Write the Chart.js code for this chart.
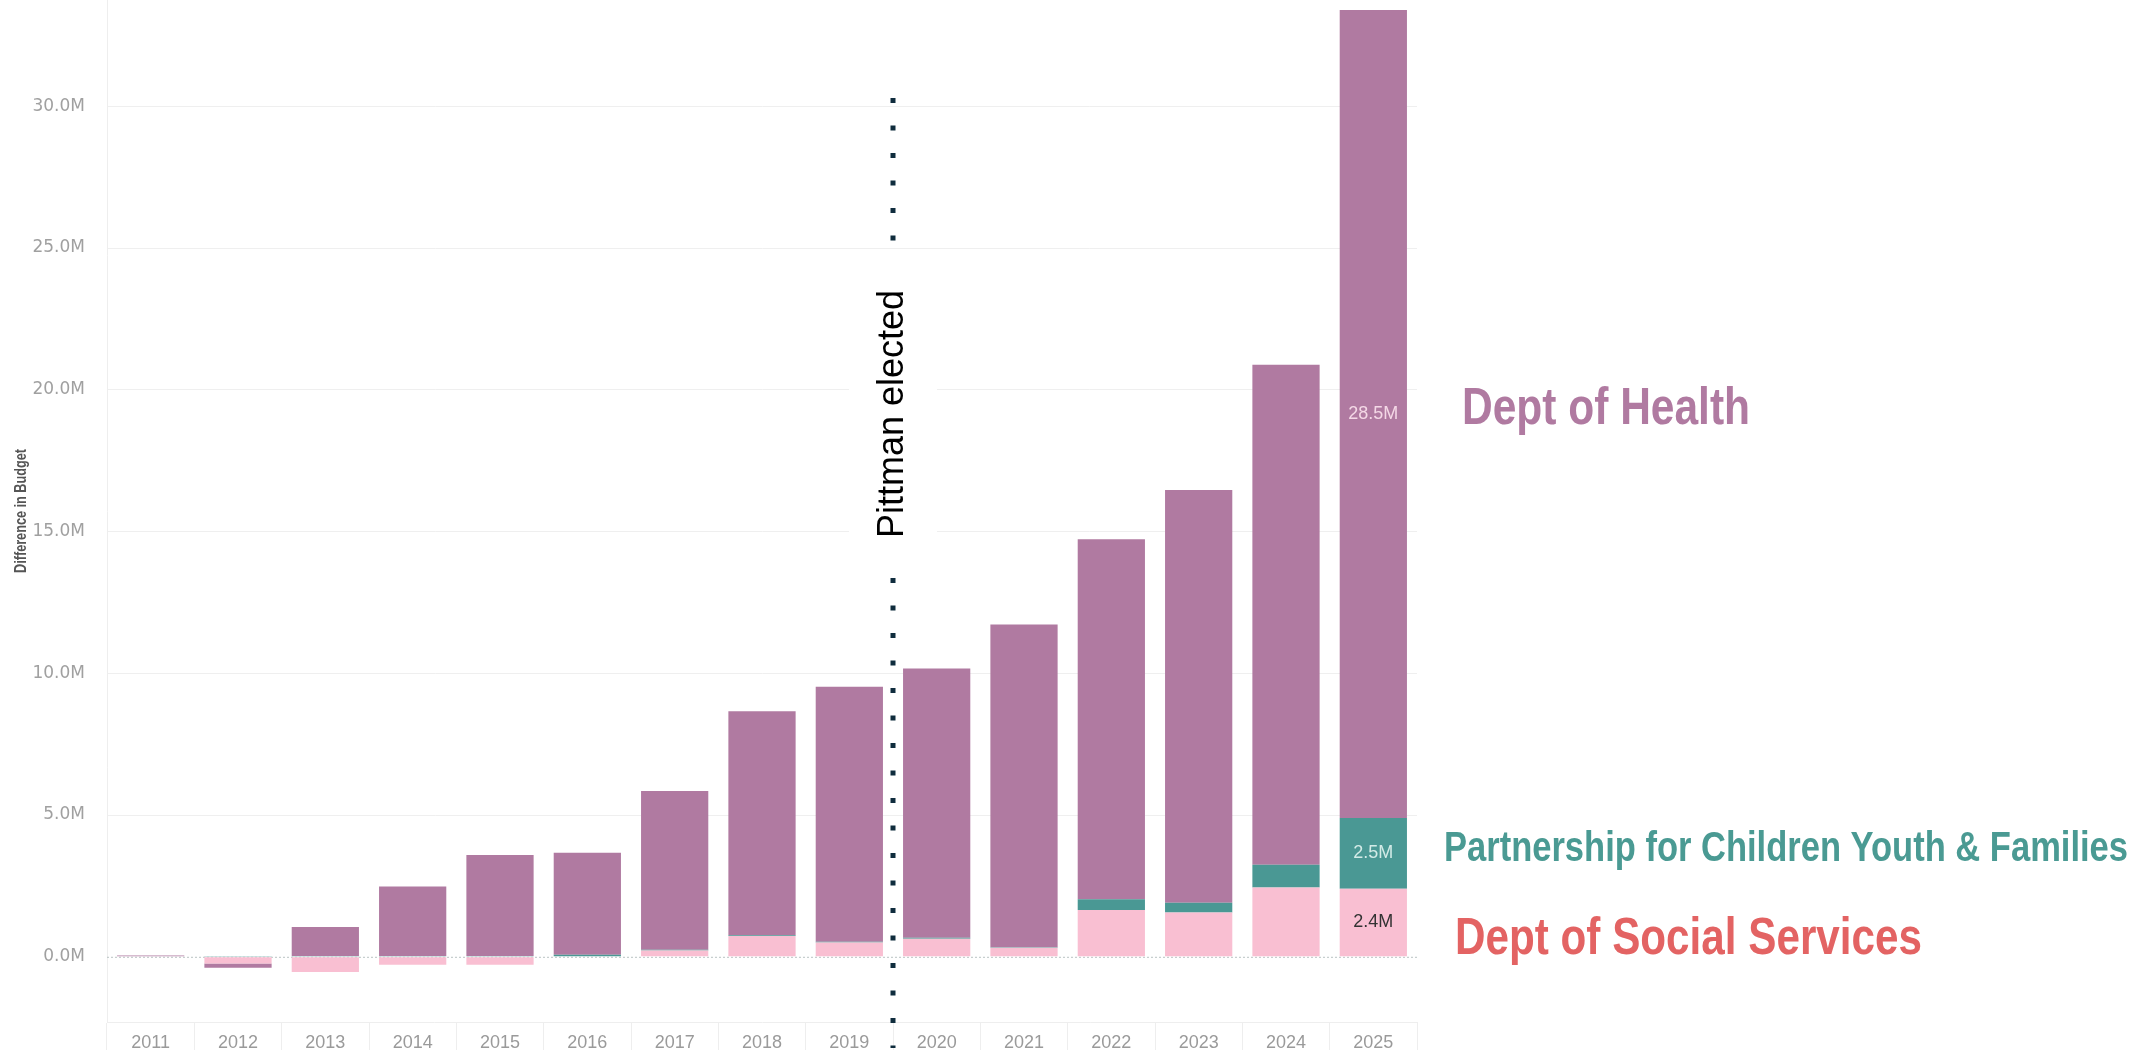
<!DOCTYPE html>
<html>
<head>
<meta charset="utf-8">
<script src="https://cdn.jsdelivr.net/npm/chart.js@4.4.0/dist/chart.umd.min.js"></script>
<style>
  html, body { margin: 0; padding: 0; background: #fff; }
</style>
</head>
<body>
<canvas id="budgetChart" width="2156" height="1050"></canvas>
<script>
// values in millions
const years = ['2011', '2012', '2013', '2014', '2015', '2016', '2017', '2018', '2019', '2020', '2021', '2022', '2023', '2024', '2025'];
const socialServices = [0, -0.24, -0.54, -0.28, -0.28, 0.02, 0.22, 0.73, 0.5, 0.64, 0.32, 1.65, 1.56, 2.44, 2.4];
const partnership = [0, 0.03, 0.03, 0.03, 0.03, 0.05, 0.03, 0.03, 0.03, 0.03, 0.02, 0.38, 0.35, 0.81, 2.5];
const health = [0.05, -0.15, 1.02, 2.45, 3.56, 3.6, 5.6, 7.9, 9.0, 9.5, 11.38, 12.7, 14.56, 17.63, 28.5];
const yTicks = [0, 5, 10, 15, 20, 25, 30];

const colors = { social: '#f9bfd2', partner: '#4a9894', health: '#b07aa1' };

const overlay = {
  id: 'overlay',
  beforeDatasetsDraw(chart) {
    const ctx = chart.ctx, a = chart.chartArea, y = chart.scales.y;
    // dotted zero line
    const y0 = y.getPixelForValue(0);
    ctx.save();
    ctx.strokeStyle = '#b9c4c4';
    ctx.lineWidth = 1;
    ctx.setLineDash([2, 2]);
    ctx.beginPath();
    ctx.moveTo(a.left, y0 + 0.5);
    ctx.lineTo(a.right, y0 + 0.5);
    ctx.stroke();
    ctx.restore();

    // axis title, squeezed like a narrow face
    ctx.save();
    ctx.translate(22, (a.top + a.bottom) / 2);
    ctx.rotate(-Math.PI / 2);
    ctx.font = 'bold 16px "Liberation Sans"';
    ctx.fillStyle = '#555555';
    ctx.textAlign = 'center';
    ctx.textBaseline = 'middle';
    ctx.fillText('Difference in Budget', 0, 0, 124);
    ctx.restore();
  },
  afterDatasetsDraw(chart) {
    const ctx = chart.ctx, x = chart.scales.x;
    const last = years.length - 1;

    // labels on the last bar
    const labelColors = ['#333333', '#d3ebe7', '#f4d8e6'];
    chart.data.datasets.forEach((ds, i) => {
      const bar = chart.getDatasetMeta(i).data[last];
      const c = bar.getCenterPoint();
      ctx.save();
      ctx.font = '18px "Liberation Sans"';
      ctx.fillStyle = labelColors[i];
      ctx.textAlign = 'center';
      ctx.textBaseline = 'middle';
      ctx.fillText(ds.data[last].toFixed(1) + 'M', c.x, c.y);
      ctx.restore();
    });

    // "Pittman elected" marker between 2019 and 2020
    const lx = Math.round((x.getPixelForValue(8) + x.getPixelForValue(9)) / 2);
    ctx.save();
    ctx.fillStyle = '#ffffff';
    ctx.fillRect(lx - 44, 250, 88, 326);
    ctx.strokeStyle = '#0f2c3d';
    ctx.lineWidth = 5;
    ctx.setLineDash([5, 22.5]);
    ctx.beginPath();
    ctx.moveTo(lx, 98);
    ctx.lineTo(lx, 250);
    ctx.moveTo(lx, 578);
    ctx.lineTo(lx, 1048);
    ctx.stroke();
    ctx.setLineDash([]);
    ctx.translate(lx, 414);
    ctx.rotate(-Math.PI / 2);
    ctx.fillStyle = '#000';
    ctx.font = '36px "Liberation Sans"';
    ctx.textAlign = 'center';
    ctx.textBaseline = 'middle';
    ctx.fillText('Pittman elected', 0, 0);
    ctx.restore();

    // series names on the right
    const names = [
      { text: 'Dept of Health', color: '#b07aa1', size: 52, left: 1462, mid: 410, w: 288 },
      { text: 'Partnership for Children Youth & Families', color: '#4a9a93', size: 42, left: 1444, mid: 849, w: 684 },
      { text: 'Dept of Social Services', color: '#e36363', size: 52, left: 1455, mid: 940, w: 467 }
    ];
    names.forEach(n => {
      ctx.save();
      ctx.font = 'bold ' + n.size + 'px "Liberation Sans"';
      ctx.fillStyle = n.color;
      ctx.textAlign = 'left';
      ctx.textBaseline = 'middle';
      ctx.fillText(n.text, n.left, n.mid, n.w);
      ctx.restore();
    });
  }
};

new Chart(document.getElementById('budgetChart'), {
  type: 'bar',
  data: {
    labels: years,
    datasets: [
      { label: 'Dept of Social Services', data: socialServices, backgroundColor: colors.social },
      { label: 'Partnership for Children Youth & Families', data: partnership, backgroundColor: colors.partner },
      { label: 'Dept of Health', data: health, backgroundColor: colors.health }
    ]
  },
  options: {
    responsive: false,
    animation: false,
    layout: { padding: { left: 0, right: 739, top: 0, bottom: 0 } },
    datasets: { bar: { categoryPercentage: 1, barPercentage: 0.77, borderWidth: 0 } },
    plugins: { legend: { display: false }, tooltip: { enabled: false } },
    scales: {
      x: {
        stacked: true,
        offset: true,
        grid: { offset: true, drawOnChartArea: false, tickLength: 28, color: '#eeeeee' },
        border: { color: '#eeeeee' },
        afterFit: s => { s.height = 28; },
        ticks: {
          padding: -18,
          color: '#9a9a9a',
          font: { family: 'Liberation Sans', size: 18 },
          maxRotation: 0,
          autoSkip: false
        }
      },
      y: {
        stacked: true,
        min: -2.3,
        max: 33.75,
        afterBuildTicks: s => { s.ticks = yTicks.map(v => ({ value: v })); },
        afterFit: s => { s.width = 107; s.paddingTop = 0; s.paddingBottom = 0; },
        grid: {
          drawTicks: false,
          color: c => (c.tick && c.tick.value === 0) ? 'rgba(0,0,0,0)' : '#efefef'
        },
        border: { color: '#eeeeee' },
        ticks: {
          padding: 22,
          color: '#a0a0a0',
          font: { family: 'DejaVu Sans', size: 17 },
          callback: v => v.toFixed(1) + 'M'
        }
      }
    }
  },
  plugins: [overlay]
});
</script>
</body>
</html>
